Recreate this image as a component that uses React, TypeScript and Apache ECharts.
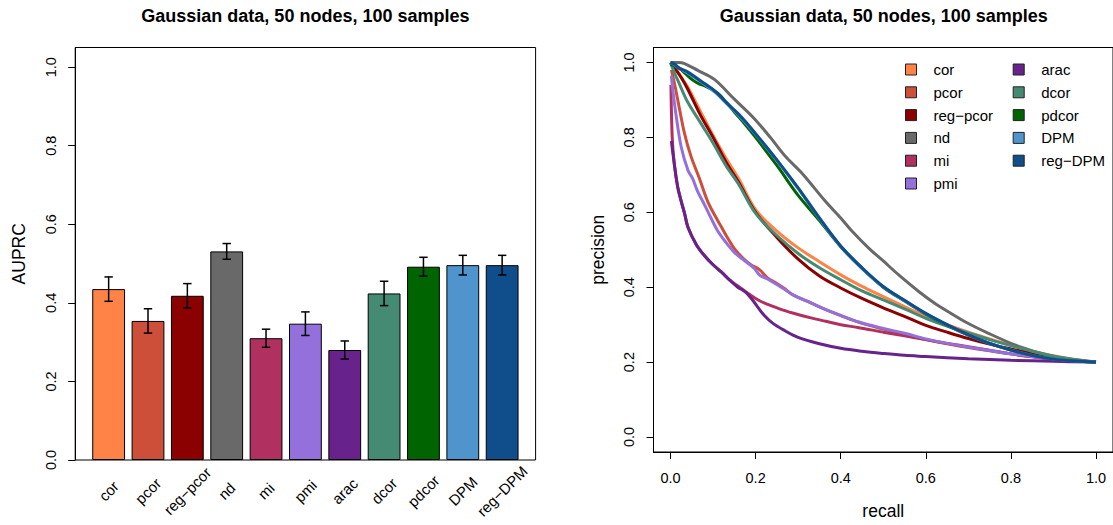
import React, { useEffect, useRef } from "react";
import * as echarts from "echarts";

const FONT = "'Liberation Sans', Arial, Helvetica, sans-serif";
const TITLE = "Gaussian data, 50 nodes, 100 samples";

const methods = ["cor", "pcor", "reg\u2212pcor", "nd", "mi", "pmi", "arac", "dcor", "pdcor", "DPM", "reg\u2212DPM"];
const colors = ["#FF8247", "#CD4F39", "#8B0000", "#696969", "#B03060", "#9370DB", "#68228B", "#458B74", "#006400", "#4F94CD", "#104E8B"];

// left panel: AUPRC means and error half-widths
const auprcMean = [0.435, 0.354, 0.418, 0.531, 0.310, 0.347, 0.280, 0.424, 0.492, 0.496, 0.496];
const auprcErr = [0.031, 0.031, 0.031, 0.020, 0.023, 0.030, 0.023, 0.031, 0.024, 0.025, 0.025];

const yTicks = [0, 0.2, 0.4, 0.6, 0.8, 1.0];
const xTicks = [0, 0.2, 0.4, 0.6, 0.8, 1.0];

// right panel: precision-recall curves [recall, precision]
const prCor = [[0, 1.0], [0.01, 0.985], [0.02, 0.97], [0.04, 0.935], [0.07, 0.87], [0.1, 0.805], [0.13, 0.745], [0.16, 0.69], [0.2, 0.607], [0.25, 0.55], [0.3, 0.505], [0.35, 0.468], [0.4, 0.433], [0.45, 0.402], [0.5, 0.375], [0.55, 0.348], [0.6, 0.322], [0.65, 0.3], [0.7, 0.28], [0.75, 0.262], [0.8, 0.245], [0.85, 0.23], [0.9, 0.217], [0.95, 0.207], [1.0, 0.2]];
const prPcor = [[0.002, 0.98], [0.01, 0.94], [0.017, 0.9], [0.033, 0.81], [0.048, 0.75], [0.068, 0.69], [0.087, 0.63], [0.105, 0.59], [0.119, 0.562], [0.135, 0.53], [0.15, 0.503], [0.17, 0.478], [0.189, 0.46], [0.209, 0.447], [0.228, 0.425], [0.25, 0.41], [0.267, 0.397], [0.287, 0.38], [0.33, 0.358], [0.365, 0.34], [0.4, 0.324], [0.443, 0.306], [0.5, 0.288], [0.55, 0.274], [0.6, 0.26], [0.65, 0.249], [0.7, 0.239], [0.75, 0.23], [0.8, 0.222], [0.85, 0.215], [0.9, 0.209], [0.95, 0.204], [1.0, 0.2]];
const prRegPcor = [[0, 1.0], [0.01, 0.985], [0.025, 0.96], [0.04, 0.93], [0.07, 0.86], [0.1, 0.8], [0.13, 0.735], [0.16, 0.68], [0.2, 0.6], [0.25, 0.533], [0.3, 0.475], [0.35, 0.43], [0.4, 0.398], [0.45, 0.37], [0.5, 0.345], [0.55, 0.322], [0.6, 0.298], [0.65, 0.28], [0.7, 0.263], [0.75, 0.248], [0.8, 0.235], [0.85, 0.223], [0.9, 0.213], [0.95, 0.205], [1.0, 0.2]];
const prNd = [[0, 1.0], [0.02, 1.0], [0.033, 0.997], [0.064, 0.979], [0.103, 0.955], [0.15, 0.902], [0.197, 0.85], [0.236, 0.798], [0.271, 0.748], [0.31, 0.703], [0.365, 0.628], [0.4, 0.585], [0.428, 0.548], [0.467, 0.503], [0.5, 0.47], [0.537, 0.432], [0.584, 0.388], [0.62, 0.358], [0.655, 0.333], [0.7, 0.303], [0.749, 0.276], [0.811, 0.245], [0.85, 0.23], [0.889, 0.218], [0.95, 0.206], [1.0, 0.2]];
const prMi = [[0.001, 0.94], [0.004, 0.8], [0.009, 0.728], [0.017, 0.667], [0.025, 0.63], [0.033, 0.597], [0.041, 0.56], [0.06, 0.515], [0.08, 0.484], [0.1, 0.46], [0.12, 0.44], [0.14, 0.418], [0.16, 0.402], [0.18, 0.385], [0.2, 0.37], [0.22, 0.358], [0.25, 0.345], [0.287, 0.331], [0.33, 0.318], [0.365, 0.309], [0.4, 0.3], [0.443, 0.292], [0.5, 0.28], [0.55, 0.27], [0.6, 0.26], [0.65, 0.25], [0.7, 0.241], [0.75, 0.232], [0.8, 0.222], [0.85, 0.214], [0.9, 0.208], [0.95, 0.203], [1.0, 0.2]];
const prPmi = [[0.002, 0.965], [0.005, 0.93], [0.013, 0.86], [0.025, 0.775], [0.041, 0.712], [0.052, 0.69], [0.064, 0.655], [0.08, 0.62], [0.095, 0.585], [0.111, 0.55], [0.13, 0.52], [0.15, 0.493], [0.175, 0.47], [0.197, 0.45], [0.21, 0.432], [0.228, 0.422], [0.267, 0.395], [0.287, 0.38], [0.33, 0.358], [0.365, 0.34], [0.4, 0.325], [0.443, 0.307], [0.5, 0.29], [0.55, 0.277], [0.6, 0.262], [0.65, 0.25], [0.7, 0.24], [0.75, 0.231], [0.8, 0.222], [0.85, 0.215], [0.9, 0.209], [0.95, 0.204], [1.0, 0.2]];
const prArac = [[0.002, 0.79], [0.009, 0.728], [0.017, 0.667], [0.025, 0.63], [0.033, 0.597], [0.041, 0.56], [0.06, 0.515], [0.08, 0.484], [0.1, 0.46], [0.12, 0.44], [0.14, 0.418], [0.158, 0.4], [0.175, 0.388], [0.19, 0.37], [0.205, 0.347], [0.22, 0.325], [0.24, 0.304], [0.267, 0.285], [0.3, 0.266], [0.35, 0.249], [0.4, 0.237], [0.45, 0.229], [0.5, 0.223], [0.55, 0.218], [0.6, 0.215], [0.7, 0.209], [0.8, 0.205], [0.9, 0.202], [1.0, 0.2]];
const prDcor = [[0, 1.0], [0.01, 0.97], [0.02, 0.945], [0.04, 0.895], [0.07, 0.84], [0.1, 0.785], [0.13, 0.725], [0.16, 0.675], [0.2, 0.597], [0.25, 0.538], [0.3, 0.49], [0.35, 0.452], [0.4, 0.42], [0.45, 0.39], [0.5, 0.366], [0.55, 0.342], [0.6, 0.317], [0.65, 0.296], [0.7, 0.278], [0.75, 0.26], [0.8, 0.244], [0.85, 0.229], [0.9, 0.216], [0.95, 0.207], [1.0, 0.2]];
const prPdcor = [[0, 0.995], [0.02, 0.985], [0.035, 0.97], [0.05, 0.955], [0.064, 0.945], [0.085, 0.935], [0.111, 0.918], [0.13, 0.895], [0.15, 0.868], [0.175, 0.835], [0.2, 0.8], [0.25, 0.725], [0.3, 0.645], [0.35, 0.578], [0.4, 0.508], [0.45, 0.45], [0.5, 0.4], [0.55, 0.363], [0.6, 0.328], [0.65, 0.298], [0.7, 0.272], [0.75, 0.25], [0.8, 0.232], [0.85, 0.218], [0.9, 0.208], [0.95, 0.203], [1.0, 0.2]];
const prDpm = [[0, 1.0], [0.01, 0.993], [0.02, 0.985], [0.04, 0.972], [0.072, 0.948], [0.103, 0.922], [0.134, 0.888], [0.166, 0.852], [0.2, 0.808], [0.25, 0.738], [0.3, 0.663], [0.35, 0.583], [0.4, 0.509], [0.45, 0.451], [0.5, 0.401], [0.55, 0.364], [0.6, 0.329], [0.65, 0.299], [0.7, 0.272], [0.75, 0.25], [0.8, 0.232], [0.85, 0.218], [0.9, 0.208], [0.95, 0.203], [1.0, 0.2]];
const prRegDpm = [[0, 1.0], [0.01, 0.995], [0.02, 0.985], [0.04, 0.975], [0.072, 0.95], [0.103, 0.925], [0.134, 0.89], [0.166, 0.855], [0.2, 0.81], [0.25, 0.74], [0.3, 0.665], [0.35, 0.585], [0.4, 0.51], [0.45, 0.452], [0.5, 0.402], [0.55, 0.365], [0.6, 0.33], [0.65, 0.3], [0.7, 0.273], [0.75, 0.25], [0.8, 0.232], [0.85, 0.218], [0.9, 0.208], [0.95, 0.203], [1.0, 0.2]];

const curves = [prCor, prPcor, prRegPcor, prNd, prMi, prPmi, prArac, prDcor, prPdcor, prDpm, prRegDpm];

const barCenters = methods.map((_, i) => i);

export default function App() {
  const ref = useRef<HTMLDivElement>(null);
  useEffect(() => {
    const chart = echarts.init(ref.current as HTMLDivElement, null, { renderer: "svg" });
    const tickFont = { fontSize: 14.5, color: "#000", fontFamily: FONT };
    const nameFont = { fontSize: 17.5, color: "#000", fontFamily: FONT };
    const legendCommon = {
      orient: "vertical",
      top: 62,
      itemWidth: 11,
      itemHeight: 11,
      itemGap: 7.8,
      padding: 0,
      icon: "rect",
      selectedMode: false,
      itemStyle: { borderColor: "#222", borderWidth: 1 },
      textStyle: { fontSize: 15, color: "#000", fontFamily: FONT, padding: [0, 0, 0, 12], lineHeight: 15 },
    };
    const titleStyle = { fontSize: 18, fontWeight: "bold", color: "#000", fontFamily: FONT };
    const option: any = {
      animation: false,
      backgroundColor: "#fff",
      title: [
        { text: TITLE, left: 305.4, top: 7, textAlign: "center", padding: 0, textStyle: titleStyle },
        { text: TITLE, left: 883.8, top: 7, textAlign: "center", padding: 0, textStyle: titleStyle },
      ],
      legend: [
        { ...legendCommon, left: 905, data: methods.slice(0, 6) },
        { ...legendCommon, left: 1012.7, data: methods.slice(6) },
      ],
      grid: [
        { left: 75.2, top: 47.5, width: 460.4, height: 412.5, show: true, borderColor: "#000", borderWidth: 1, backgroundColor: "transparent", containLabel: false },
        { left: 653.5, top: 47.5, width: 460.5, height: 412.5, show: true, borderColor: "#000", borderWidth: 1, backgroundColor: "transparent", containLabel: false },
      ],
      xAxis: [
        {
          type: "value", gridIndex: 0, min: -0.85, max: 10.85,
          axisLine: { show: false, onZero: false }, axisTick: { show: false }, splitLine: { show: false },
          axisLabel: {
            ...tickFont, fontSize: 15, customValues: barCenters, rotate: 45, margin: 31, align: "center", verticalAlign: "middle",
            formatter: (v: number) => methods[Math.round(v)],
          },
        },
        {
          type: "value", gridIndex: 1, min: -0.04, max: 1.04,
          name: "recall", nameLocation: "middle", nameGap: 50, nameTextStyle: nameFont,
          axisLine: { show: true, onZero: false, lineStyle: { color: "#000", width: 1 } },
          axisTick: { show: true, customValues: xTicks, length: 7, lineStyle: { color: "#000" } },
          splitLine: { show: false },
          axisLabel: { ...tickFont, customValues: xTicks, margin: 18, formatter: (v: number) => v.toFixed(1) },
        },
      ],
      yAxis: [
        {
          type: "value", gridIndex: 0, min: 0, max: 1.05,
          name: "AUPRC", nameLocation: "middle", nameGap: 47, nameRotate: 90, nameTextStyle: nameFont,
          axisLine: { show: true, onZero: false, lineStyle: { color: "#000", width: 1 } },
          axisTick: { show: true, customValues: yTicks, length: 7, lineStyle: { color: "#000" } },
          splitLine: { show: false },
          axisLabel: { ...tickFont, customValues: yTicks, rotate: 90, margin: 17, formatter: (v: number) => v.toFixed(1) },
        },
        {
          type: "value", gridIndex: 1, min: -0.04, max: 1.04,
          name: "precision", nameLocation: "middle", nameGap: 47, nameRotate: 90, nameTextStyle: nameFont,
          axisLine: { show: true, onZero: false, lineStyle: { color: "#000", width: 1 } },
          axisTick: { show: true, customValues: yTicks, length: 7, lineStyle: { color: "#000" } },
          splitLine: { show: false },
          axisLabel: { ...tickFont, customValues: yTicks, rotate: 90, margin: 17, formatter: (v: number) => v.toFixed(1) },
        },
      ],
      series: [
        {
          type: "bar", name: "AUPRC", xAxisIndex: 0, yAxisIndex: 0, barWidth: 32.8,
          data: auprcMean.map((v, i) => ({ value: [i, v], itemStyle: { color: colors[i] } })),
          itemStyle: { borderColor: "#000", borderWidth: 1 },
        },
        {
          type: "custom", name: "err", xAxisIndex: 0, yAxisIndex: 0,
          encode: { x: 0, y: [1, 2] },
          data: auprcMean.map((v, i) => [i, v - auprcErr[i], v + auprcErr[i]]),
          renderItem: (params: any, api: any) => {
            const x = api.value(0);
            const hi = api.coord([x, api.value(2)]);
            const lo = api.coord([x, api.value(1)]);
            const cw = 4.2;
            const st = { stroke: "#000", lineWidth: 1.5 };
            return {
              type: "group",
              children: [
                { type: "line", shape: { x1: hi[0], y1: hi[1], x2: lo[0], y2: lo[1] }, style: st },
                { type: "line", shape: { x1: hi[0] - cw, y1: hi[1], x2: hi[0] + cw, y2: hi[1] }, style: st },
                { type: "line", shape: { x1: lo[0] - cw, y1: lo[1], x2: lo[0] + cw, y2: lo[1] }, style: st },
              ],
            };
          },
          z: 5,
        },
        ...curves.map((d, i) => ({
          type: "line", name: methods[i], xAxisIndex: 1, yAxisIndex: 1,
          data: d, showSymbol: false, symbol: "none", smooth: 0.35,
          color: colors[i], lineStyle: { color: colors[i], width: 3 },
        })),
      ],
    };
    chart.setOption(option);
    return () => chart.dispose();
  }, []);
  return <div ref={ref} style={{ position: "absolute", left: 0, top: 0, width: 1113, height: 525, background: "#fff" }} />;
}
